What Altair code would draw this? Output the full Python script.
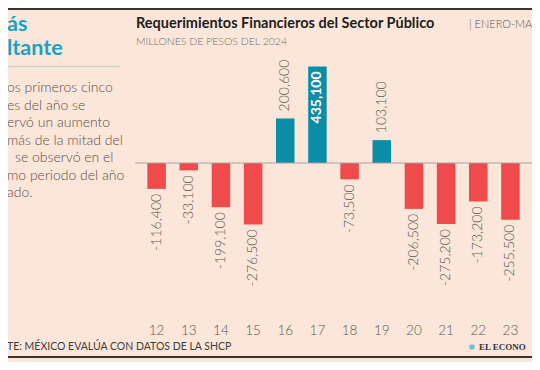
import altair as alt
import pandas as pd

# ---- data ----
years = [12, 13, 14, 15, 16, 17, 18, 19, 20, 21, 22, 23, 24]
values = [-116400, -33100, -199100, -276500, 200600, 435100, -73500,
          103100, -206500, -275200, -173200, -255500, -665000]
labels = ["-116,400", "-33,100", "-199,100", "-276,500", "200,600", "435,100",
          "-73,500", "103,100", "-206,500", "-275,200", "-173,200", "-255,500", ""]
tick_years = [12, 13, 14, 15, 16, 17, 18, 19, 20, 21, 22, 23]
tick_labels = ["12", "13", "14", "15", "16", "17", "18", "19", "20", "21", "22", "23"]
inside_years = [17]

title_text = "Requerimientos Financieros del Sector Público"
title_tail = "| ENERO-MA"
subtitle_text = "MILLONES DE PESOS DEL 2024"
heading_lines = ["ás", "ltante"]
para_lines = ["os primeros cinco", "es del año se", "ervó un aumento",
              "más de la mitad del", "se observó en el", "mo periodo del año", "ado."]
source_text = "TE: MÉXICO EVALÚA CON DATOS DE LA SHCP"
brand_text = "EL ECONO"

# ---- style ----
BG = "#FCE6D9"
RED = "#EF4B4B"
TEAL = "#0B8EA5"
HEAD = "#19A3C2"
TXT = "#555555"
FONT = "Lato"

W, H = 396, 268
PAD = {"left": 128, "top": 42, "right": 0, "bottom": 44}

df = pd.DataFrame({"year": years, "value": values, "label": labels})
df["inside"] = df["year"].isin(inside_years)
ticks_df = pd.DataFrame({"year": tick_years, "lab": tick_labels})

xscale = alt.Scale(domain=[11.515, 11.515 + W / 33.0], nice=False, zero=False)
yscale = alt.Scale(domain=[-698000, 509000], nice=False, zero=False)

base = alt.Chart(df)

bars = base.mark_bar(width=18.5).encode(
    x=alt.X("year:Q", scale=xscale, axis=None),
    y=alt.Y("value:Q", scale=yscale, axis=None, stack=None),
    color=alt.condition("datum.value > 0", alt.value(TEAL), alt.value(RED)),
)

ticks = alt.Chart(ticks_df).mark_text(
    font=FONT, fontSize=13.5, fontWeight=300, color=TXT, baseline="middle", align="center"
).encode(
    x=alt.X("year:Q", scale=xscale, axis=None),
    y=alt.value(H + 13),
    text="lab:N",
)

zero = alt.Chart(alt.Data(values=[{"z": 0}])).mark_rule(color="#A9A39E", strokeWidth=1).encode(
    y=alt.Y("z:Q", scale=yscale, axis=None),
    x=alt.value(-1), x2=alt.value(W),
)

lab_common = dict(angle=270, baseline="middle", font=FONT, fontSize=14, fontWeight=300, color=TXT)

lab_pos = base.transform_filter("datum.value > 0 && !datum.inside").mark_text(
    align="left", dx=7, **lab_common).encode(
    x=alt.X("year:Q", scale=xscale, axis=None), y=alt.Y("value:Q", scale=yscale, axis=None),
    text="label:N")

lab_neg = base.transform_filter("datum.value < 0").mark_text(
    align="right", dx=-5, **lab_common).encode(
    x=alt.X("year:Q", scale=xscale, axis=None), y=alt.Y("value:Q", scale=yscale, axis=None),
    text="label:N")

lab_in = base.transform_filter("datum.inside").mark_text(
    align="right", dx=-5, angle=270, baseline="middle", font=FONT, fontSize=14,
    fontWeight="bold", color="white").encode(
    x=alt.X("year:Q", scale=xscale, axis=None), y=alt.Y("value:Q", scale=yscale, axis=None),
    text="label:N")

one = alt.Data(values=[{}])


def txt(s, x, y, size, color, weight="normal", font=FONT, align="left", baseline="alphabetic"):
    return alt.Chart(one).mark_text(
        x=x, y=y, fontSize=size, color=color, fontWeight=weight, font=font,
        align=align, baseline=baseline).encode(text=alt.value(s))


def hline(x1, x2, y, color, sw):
    return alt.Chart(one).mark_rule(color=color, strokeWidth=sw).encode(
        x=alt.value(x1), x2=alt.value(x2), y=alt.value(y))


layers = [bars, zero, lab_pos, lab_neg, lab_in, ticks]

# header
layers.append(txt(title_text, 0, -22, 14.5, "#1E1E1E", weight="bold"))
layers.append(txt(title_tail, 333, -22, 11, TXT, weight=300))
layers.append(txt(subtitle_text, 0, -5, 10.5, "#6E6E6E", weight=300))

# left panel
layers.append(txt(heading_lines[0], -129, -19, 21.5, HEAD, weight="bold"))
layers.append(txt(heading_lines[1], -129, 5, 21.5, HEAD, weight="bold"))
layers.append(hline(-128, -16, 16.5, "#CBD5C6", 1.5))
para_y = [38, 55.5, 73, 90.5, 108, 125.5, 143]
for i, (line, yy) in enumerate(zip(para_lines, para_y)):
    xx = -121 if i == 4 else -129
    layers.append(txt(line, xx, yy, 14, "#5C4D45", weight=300, baseline="middle"))

# borders
layers.append(hline(-128, W, -41, "#3A3430", 2))
layers.append(hline(-128, W, 307, "#3A3430", 2))

# footer
layers.append(txt(source_text, -129, 297, 10.5, "#3D3D3D", baseline="middle"))
layers.append(alt.Chart(one).mark_point(filled=True, shape="circle", size=30, color="#79BCD8", opacity=1).encode(
    x=alt.value(336), y=alt.value(297)))
layers.append(txt(brand_text, 343, 297, 9, "#333333", weight="bold",
                  font="Liberation Serif", baseline="middle"))

chart = alt.layer(*layers).properties(
    width=W, height=H,
    autosize=alt.AutoSizeParams(type="none"),
    padding=PAD,
    background=BG,
).configure_view(stroke=None)

chart.save("out.html", embed_options={"renderer": "svg", "actions": False})
